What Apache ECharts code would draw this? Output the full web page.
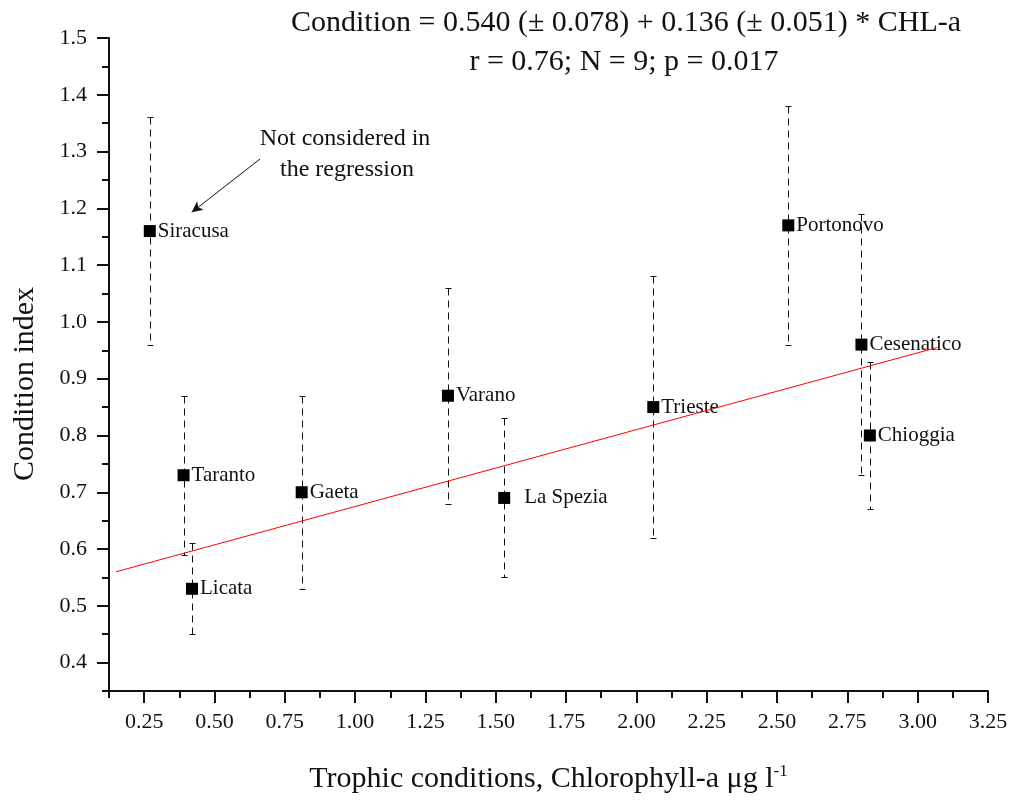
<!DOCTYPE html>
<html>
<head>
<meta charset="utf-8">
<script src="https://cdn.jsdelivr.net/npm/echarts@6/dist/echarts.min.js"></script>
<style>
html,body{margin:0;padding:0;background:#fff;}
#chart{width:1017px;height:803px;}
</style>
</head>
<body>
<div id="chart"></div>
<script>
// ---- data ----
const sites    = ['Siracusa','Taranto','Licata','Gaeta','Varano','La Spezia','Trieste','Portonovo','Cesenatico','Chioggia'];
const chl      = [0.27, 0.39, 0.42, 0.81, 1.33, 1.53, 2.06, 2.54, 2.80, 2.83];
const cond     = [1.16, 0.73, 0.53, 0.70, 0.87, 0.69, 0.85, 1.17, 0.96, 0.80];
const errLow   = [0.96, 0.59, 0.45, 0.53, 0.68, 0.55, 0.62, 0.96, 0.73, 0.67];
const errHigh  = [1.36, 0.87, 0.61, 0.87, 1.06, 0.83, 1.08, 1.38, 1.19, 0.93];
const regX     = [0.15, 3.07];
const regY     = [0.56, 0.955];
const arrowFrom = [0.662, 1.287];
const arrowTo   = [0.419, 1.193];
const xMajorTicks = [0.25,0.50,0.75,1.00,1.25,1.50,1.75,2.00,2.25,2.50,2.75,3.00,3.25];
const xMinorTicks = [0.125,0.375,0.625,0.875,1.125,1.375,1.625,1.875,2.125,2.375,2.625,2.875,3.125];
const yMajorTicks = [0.4,0.5,0.6,0.7,0.8,0.9,1.0,1.1,1.2,1.3,1.4,1.5];
const yMinorTicks = [0.35,0.45,0.55,0.65,0.75,0.85,0.95,1.05,1.15,1.25,1.35,1.45];
const titleLines = ['Condition = 0.540 (\u00b1 0.078) + 0.136 (\u00b1 0.051) * CHL-a', 'r = 0.76; N = 9; p = 0.017'];
const noteLines  = ['Not considered in', 'the regression'];
const xName = 'Trophic conditions, Chlorophyll-a \u03bcg l';
const xNameSup = '-1';
const yName = 'Condition index';

// ---- styling ----
const FONT = 'Liberation Serif';
const INK = '#111';
const labelDistance = { 'La Spezia': 14 };

const chart = echarts.init(document.getElementById('chart'), null, {renderer: 'canvas'});

function renderErr(params, api) {
  const x = api.value(0), lo = api.value(1), hi = api.value(2);
  const pLo = api.coord([x, lo]);
  const pHi = api.coord([x, hi]);
  const cx = Math.round(pLo[0]) + 0.5;
  const yLo = Math.round(pLo[1]) + 0.5;
  const yHi = Math.round(pHi[1]) + 0.5;
  const cap = 3;
  return {
    type: 'group',
    children: [
      {type: 'line', shape: {x1: cx, y1: yHi, x2: cx, y2: yLo}, style: {stroke: INK, lineWidth: 1, lineDash: [7, 5]}},
      {type: 'line', shape: {x1: cx - cap, y1: yHi, x2: cx + cap, y2: yHi}, style: {stroke: INK, lineWidth: 1}},
      {type: 'line', shape: {x1: cx - cap, y1: yLo, x2: cx + cap, y2: yLo}, style: {stroke: INK, lineWidth: 1}}
    ]
  };
}

const axisCommon = {
  type: 'value',
  min: 0.125, max: 3.25,
  splitLine: {show: false}
};

const option = {
  animation: false,
  backgroundColor: '#fff',
  grid: {left: 109, right: 29, top: 38, bottom: 112, containLabel: false},
  xAxis: [
    Object.assign({}, axisCommon, {
      position: 'bottom',
      axisLine: {show: true, lineStyle: {color: INK, width: 2}},
      axisTick: {show: true, length: 12, customValues: xMajorTicks, lineStyle: {color: INK, width: 2}},
      axisLabel: {show: true, customValues: xMajorTicks, margin: 20, fontFamily: FONT, fontSize: 22, color: INK,
                  formatter: v => Number(v).toFixed(2)},
      name: '{a|' + xName + '}{s|' + xNameSup + '}',
      nameLocation: 'middle',
      nameGap: 72,
      nameTextStyle: {
        rich: {
          a: {fontFamily: FONT, fontSize: 30, color: INK, lineHeight: 32},
          s: {fontFamily: FONT, fontSize: 17, color: INK, verticalAlign: 'top', lineHeight: 32, padding: [0, 0, 14, 0]}
        }
      }
    }),
    Object.assign({}, axisCommon, {
      position: 'bottom',
      offset: 0,
      axisLine: {show: false},
      axisTick: {show: true, length: 7, customValues: xMinorTicks, lineStyle: {color: INK, width: 2}},
      axisLabel: {show: false}
    })
  ],
  yAxis: [
    {
      type: 'value', min: 0.35, max: 1.5, position: 'left',
      splitLine: {show: false},
      axisLine: {show: true, lineStyle: {color: INK, width: 2}},
      axisTick: {show: true, length: 12, customValues: yMajorTicks, lineStyle: {color: INK, width: 2}},
      axisLabel: {show: true, customValues: yMajorTicks, margin: 22, fontFamily: FONT, fontSize: 22, color: INK,
                  formatter: v => Number(v).toFixed(1)}
    },
    {
      type: 'value', min: 0.35, max: 1.5, position: 'left', offset: 0,
      splitLine: {show: false},
      axisLine: {show: false},
      axisTick: {show: true, length: 7, customValues: yMinorTicks, lineStyle: {color: INK, width: 2}},
      axisLabel: {show: false}
    }
  ],
  graphic: [
    {type: 'text', x: 626, y: 23, style: {text: titleLines[0], fontFamily: FONT, fontSize: 30, fill: INK, align: 'center', verticalAlign: 'middle', textAlign: 'center', textVerticalAlign: 'middle'}},
    {type: 'text', x: 624, y: 62, style: {text: titleLines[1], fontFamily: FONT, fontSize: 30, fill: INK, align: 'center', verticalAlign: 'middle', textAlign: 'center', textVerticalAlign: 'middle'}},
    {type: 'text', x: 345, y: 139, style: {text: noteLines[0], fontFamily: FONT, fontSize: 24, fill: INK, align: 'center', verticalAlign: 'middle', textAlign: 'center', textVerticalAlign: 'middle'}},
    {type: 'text', x: 347, y: 170, style: {text: noteLines[1], fontFamily: FONT, fontSize: 24, fill: INK, align: 'center', verticalAlign: 'middle', textAlign: 'center', textVerticalAlign: 'middle'}},
    {type: 'text', x: 25, y: 384, rotation: Math.PI / 2, style: {text: yName, fontFamily: FONT, fontSize: 30, fill: INK, align: 'center', verticalAlign: 'middle', textAlign: 'center', textVerticalAlign: 'middle'}}
  ],
  series: [
    {
      type: 'custom',
      name: 'error',
      renderItem: renderErr,
      encode: {x: 0, y: [1, 2]},
      data: chl.map((x, i) => [x, errLow[i], errHigh[i]]),
      z: 3
    },
    {
      type: 'line',
      name: 'regression',
      data: regX.map((x, i) => [x, regY[i]]),
      showSymbol: false,
      symbol: 'none',
      lineStyle: {color: '#ff0000', width: 1},
      z: 6
    },
    {
      type: 'scatter',
      name: 'sites',
      symbol: 'rect',
      symbolSize: 12,
      itemStyle: {color: '#000', opacity: 1},
      emphasis: {disabled: true},
      data: chl.map((x, i) => ({
        value: [x, cond[i]],
        name: sites[i],
        label: labelDistance[sites[i]] ? {distance: labelDistance[sites[i]]} : undefined
      })),
      label: {show: true, position: 'right', distance: 2, formatter: '{b}', fontFamily: FONT, fontSize: 21, color: INK, opacity: 1},
      markLine: {
        silent: true,
        symbol: ['none', 'arrow'],
        symbolSize: [8, 11],
        label: {show: false},
        lineStyle: {color: INK, width: 1, type: 'solid', opacity: 1},
        data: [[{coord: arrowFrom}, {coord: arrowTo}]]
      },
      z: 5
    }
  ]
};

chart.setOption(option);
</script>
</body>
</html>
